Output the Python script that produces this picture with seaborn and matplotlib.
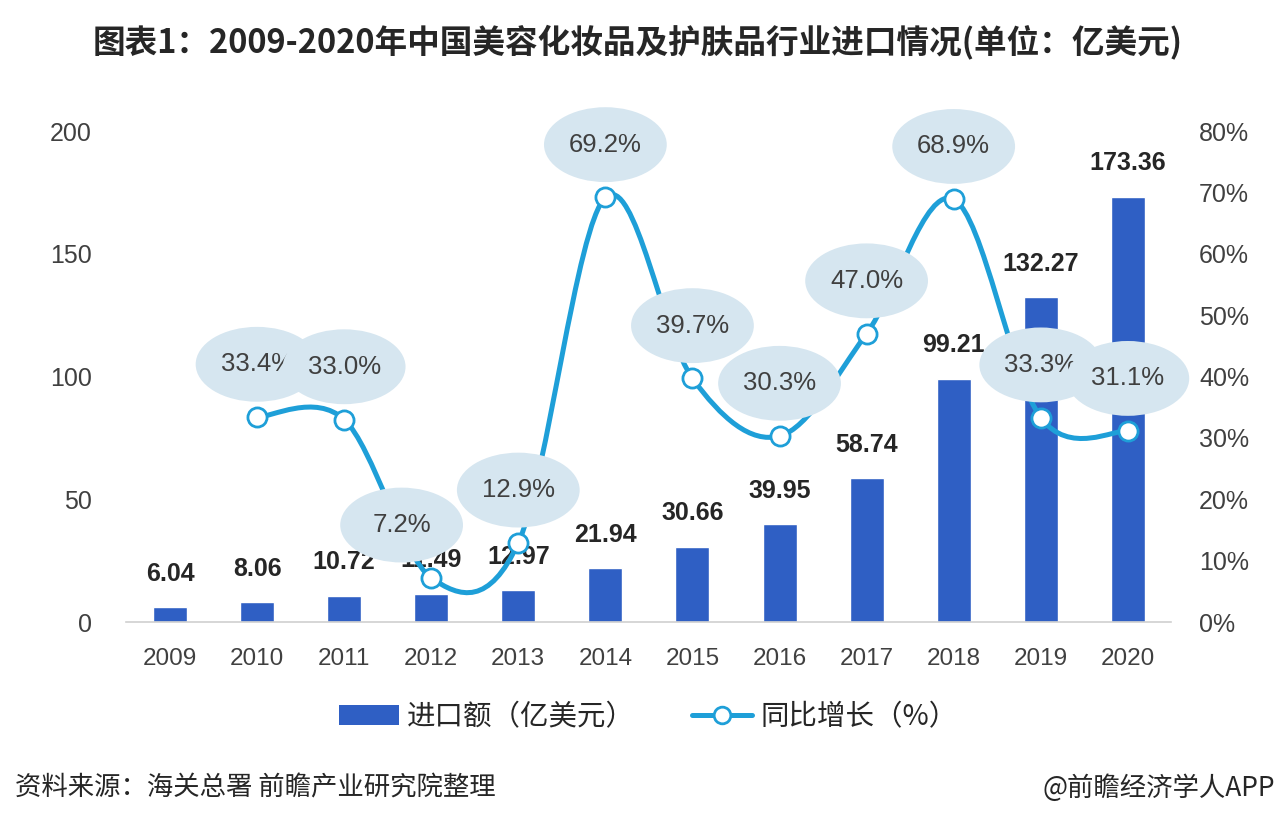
import numpy as np
import pandas as pd
import matplotlib
matplotlib.use("Agg")
import matplotlib.pyplot as plt
import seaborn as sns
from matplotlib.path import Path
from matplotlib.patches import PathPatch, Ellipse, Patch
from matplotlib.lines import Line2D

# ---- data ----
years = ["2009", "2010", "2011", "2012", "2013", "2014", "2015", "2016", "2017", "2018", "2019", "2020"]
imports = [6.04, 8.06, 10.72, 11.49, 12.97, 21.94, 30.66, 39.95, 58.74, 99.21, 132.27, 173.36]
growth_years = years[1:]
growth = [33.4, 33.0, 7.2, 12.9, 69.2, 39.7, 30.3, 47.0, 68.9, 33.3, 31.1]

title = "图表1：2009-2020年中国美容化妆品及护肤品行业进口情况(单位：亿美元)"
source = "资料来源：海关总署 前瞻产业研究院整理"
credit = "@前瞻经济学人APP"

BAR = "#2f5fc4"
LINE = "#1e9fd8"
BUBBLE = "#d6e6f0"
TXT = "#404040"

sns.set_theme(style="white")
plt.rcParams["font.family"] = ["Liberation Sans", "Noto Sans CJK SC", "DejaVu Sans"]

fig = plt.figure(figsize=(12.76, 8.30), dpi=100)
fig.patch.set_facecolor("white")
ax = fig.add_axes([0.0991, 0.2506, 0.8189, 0.5914])

df = pd.DataFrame({"year": years, "imports": imports})
sns.barplot(data=df, x="year", y="imports", color=BAR, width=0.39,
            saturation=1, ax=ax, zorder=2)

ax.set_xlim(-0.5, 11.5)
ax.set_ylim(0, 200)
ax.set_yticks([0, 50, 100, 150, 200])
ax.set_xlabel("")
ax.set_ylabel("")
for s in ["top", "right", "left"]:
    ax.spines[s].set_visible(False)
ax.spines["bottom"].set_color("#d0d0d0")
ax.spines["bottom"].set_linewidth(1.2)
ax.tick_params(axis="y", length=0, pad=25, labelsize=18, labelcolor=TXT)
ax.tick_params(axis="x", length=0, pad=19, labelsize=17.5, labelcolor=TXT)

# bar value labels
for i, v in enumerate(imports):
    ax.annotate(f"{v:.2f}", (i, v), xytext=(0, 24), textcoords="offset points",
                ha="center", va="center", fontsize=18, fontweight="bold",
                color="#262626", zorder=3)

# right axis for growth
ax2 = ax.twinx()
ax2.set_ylim(0, 80)
ax2.set_yticks(range(0, 81, 10))
ax2.set_yticklabels([f"{t}%" for t in range(0, 81, 10)])
ax2.tick_params(axis="y", length=0, pad=20, labelsize=18, labelcolor=TXT)
for s in ax2.spines.values():
    s.set_visible(False)
ax2.grid(False)

# smoothed growth line (Catmull-Rom style bezier between points)
xs = np.array([years.index(y) for y in growth_years], dtype=float)
pts = np.column_stack([xs, growth])
verts = [tuple(pts[0])]
codes = [Path.MOVETO]
n = len(pts)
for i in range(n - 1):
    p0 = pts[max(i - 1, 0)]
    p1 = pts[i]
    p2 = pts[i + 1]
    p3 = pts[min(i + 2, n - 1)]
    c1 = p1 + (p2 - p0) / 6
    c2 = p2 - (p3 - p1) / 6
    verts += [tuple(c1), tuple(c2), tuple(p2)]
    codes += [Path.CURVE4] * 3
ax2.add_patch(PathPatch(Path(verts, codes), fill=False, edgecolor=LINE,
                        lw=3.6, capstyle="round", zorder=4, clip_on=False))
sns.scatterplot(x=xs, y=growth, ax=ax2, s=190, color="white",
                edgecolor=LINE, linewidth=2, zorder=5, legend=False, clip_on=False)

# label bubbles (x nudge in category units)
nudge = {"2012": -0.34}
bub_w, bub_h, lift = 1.41, 12.2, 8.6
for yr, x, g in zip(growth_years, xs, growth):
    cx = x + nudge.get(yr, 0)
    cy = g + lift
    ax2.add_patch(Ellipse((cx, cy), bub_w, bub_h, facecolor=BUBBLE,
                          edgecolor="none", zorder=6 + 0.01 * x, clip_on=False))
    ax2.text(cx, cy, f"{g:.1f}%", ha="center", va="center", fontsize=18.5,
             color=TXT, zorder=6.005 + 0.01 * x)

# title, legend, footer
fig.text(0.5, 0.949, title, ha="center", va="center", fontsize=23.5,
         fontweight="bold", color="#262626", family=["Noto Sans CJK SC"])

handles = [Patch(facecolor=BAR, edgecolor="none"),
           Line2D([0], [0], color=LINE, lw=3.6, marker="o", markersize=12,
                  markerfacecolor="white", markeredgecolor=LINE, markeredgewidth=2)]
fig.legend(handles, ["进口额（亿美元）", "同比增长（%）"], loc="center",
           bbox_to_anchor=(0.508, 1 - 717 / 830), ncol=2, frameon=False,
           handlelength=2.1, handleheight=0.75,
           handletextpad=0.3, columnspacing=2.0,
           prop={"family": ["Noto Sans CJK SC"], "size": 20.5})

fig.text(0.012, 1 - 788 / 830, source, ha="left", va="center", fontsize=19,
         color="#262626", family=["Noto Sans CJK SC"])
fig.text(0.999, 1 - 788 / 830, credit, ha="right", va="center", fontsize=19,
         color="#262626", family=["Noto Sans CJK SC"])

fig.savefig("out.png", dpi=100, facecolor="white")
